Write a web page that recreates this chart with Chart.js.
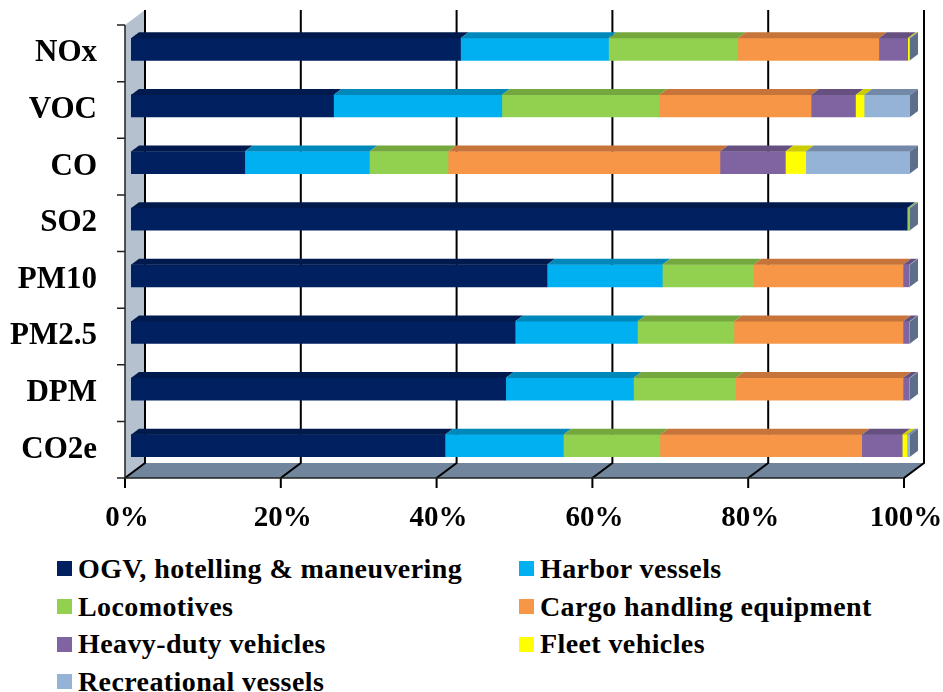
<!DOCTYPE html>
<html>
<head>
<meta charset="utf-8">
<script src="https://cdn.jsdelivr.net/npm/chart.js@4.4.0/dist/chart.umd.min.js"></script>
<style>
  body { margin: 0; background: #fff; width: 943px; height: 692px; position: relative; overflow: hidden; font-family: "Liberation Serif", serif; }
  #wrap { position: absolute; left: 0; top: 0; width: 943px; height: 545px; }
  #legend { position: absolute; left: 57px; top: 550px; display: grid; grid-template-columns: 462px auto; grid-auto-rows: 37.7px; font-weight: bold; font-size: 28px; letter-spacing: 0.4px; color: #000; }
  .item { display: flex; align-items: center; white-space: nowrap; }
  .box { width: 15px; height: 15px; margin-right: 6px; flex: none; }
</style>
</head>
<body>
<div id="wrap"><canvas id="chart" width="943" height="545"></canvas></div>
<div id="legend"></div>
<script>
// pollutants
const categories = ["NOx", "VOC", "CO", "SO2", "PM10", "PM2.5", "DPM", "CO2e"];

// share of each source, %
const ogv    = [42.3, 26.0, 14.6, 99.6, 53.4, 49.3, 48.1, 40.3];
const harbor = [19.0, 21.6, 16.0, 0.1, 14.8, 15.7, 16.4, 15.2];
const loco   = [16.6, 20.2, 10.1, 0.2, 11.7, 12.4, 13.1, 12.4];
const cargo  = [18.1, 19.5, 34.9, 0.05, 19.2, 21.7, 21.5, 25.9];
const hdv    = [3.7, 5.7, 8.4, 0.02, 0.8, 0.8, 0.8, 5.2];
const fleet  = [0.2, 1.1, 2.6, 0, 0, 0, 0, 0.6];
const rec    = [0.1, 5.9, 13.4, 0.03, 0.1, 0.1, 0.1, 0.4];

const xTicks = [0, 20, 40, 60, 80, 100];

const names = ["OGV, hotelling & maneuvering", "Harbor vessels", "Locomotives", "Cargo handling equipment",
  "Heavy-duty vehicles", "Fleet vehicles", "Recreational vessels"];
const series = [ogv, harbor, loco, cargo, hdv, fleet, rec];
const colors = ["#002060", "#00B0F0", "#92D050", "#F79646", "#8064A2", "#FFFF00", "#95B3D7"];
const topColors = ["#001A4D", "#0088BB", "#74A83E", "#C6743A", "#65507F", "#CCCC00", "#7489A8"];

// fake 3d: walls, floor, gridlines behind, bar tops after
const dx = 8, dy = 6;
const threeD = {
  id: "threeD",
  beforeDatasetsDraw(chart) {
    const { ctx, chartArea: a, scales: { x } } = chart;
    const fx = -6, fy = 4, bx = 14, by = -11;
    const x0 = x.getPixelForValue(0), x1 = x.getPixelForValue(100);
    ctx.save();
    // left wall
    ctx.fillStyle = "#B5C1CF";
    ctx.beginPath();
    ctx.moveTo(x0 + fx, a.top + fy);
    ctx.lineTo(x0 + bx, a.top + by);
    ctx.lineTo(x0 + bx, a.bottom + by);
    ctx.lineTo(x0 + fx, a.bottom + fy);
    ctx.closePath();
    ctx.fill();
    // floor
    ctx.fillStyle = "#71859D";
    ctx.beginPath();
    ctx.moveTo(x0 + fx, a.bottom + fy);
    ctx.lineTo(x0 + bx, a.bottom + by);
    ctx.lineTo(x1 + bx, a.bottom + by);
    ctx.lineTo(x1 + fx, a.bottom + fy);
    ctx.closePath();
    ctx.fill();
    // gridlines
    ctx.strokeStyle = "#000";
    ctx.lineWidth = 2;
    xTicks.forEach(v => {
      const p = x.getPixelForValue(v);
      ctx.beginPath();
      ctx.moveTo(p + bx, a.top + by);
      ctx.lineTo(p + bx, a.bottom + by);
      ctx.lineTo(p + fx, a.bottom + fy);
      ctx.lineTo(p + fx, a.bottom + fy + 10);
      ctx.stroke();
    });
    // front axis + category ticks
    ctx.lineWidth = 1.5;
    ctx.strokeStyle = "#222";
    ctx.beginPath();
    ctx.moveTo(x0 + fx, a.top + fy);
    ctx.lineTo(x0 + fx, a.bottom + fy);
    ctx.lineTo(x1 + fx, a.bottom + fy);
    const step = a.height / categories.length;
    for (let k = 0; k <= categories.length; k++) {
      const yy = a.top + fy + k * step;
      ctx.moveTo(x0 + fx - 8, yy);
      ctx.lineTo(x0 + fx, yy);
    }
    ctx.stroke();
    ctx.restore();
  },
  afterDatasetsDraw(chart) {
    const ctx = chart.ctx;
    ctx.save();
    chart.data.datasets.forEach((ds, i) => {
      chart.getDatasetMeta(i).data.forEach(bar => {
        const l = Math.min(bar.base, bar.x), r = Math.max(bar.base, bar.x);
        if (r - l <= 0) return;
        const t = bar.y - bar.height / 2;
        ctx.fillStyle = topColors[i];
        ctx.beginPath();
        ctx.moveTo(l, t);
        ctx.lineTo(l + dx, t - dy);
        ctx.lineTo(r + dx, t - dy);
        ctx.lineTo(r, t);
        ctx.closePath();
        ctx.fill();
      });
    });
    const last = chart.getDatasetMeta(chart.data.datasets.length - 1);
    last.data.forEach(bar => {
      const r = bar.x, t = bar.y - bar.height / 2, b = bar.y + bar.height / 2;
      ctx.fillStyle = "#5D6E8B";
      ctx.beginPath();
      ctx.moveTo(r, t);
      ctx.lineTo(r + dx, t - dy);
      ctx.lineTo(r + dx, b - dy);
      ctx.lineTo(r, b);
      ctx.closePath();
      ctx.fill();
    });
    ctx.restore();
  }
};

new Chart(document.getElementById("chart"), {
  type: "bar",
  data: {
    labels: categories,
    datasets: series.map((d, i) => ({
      label: names[i],
      data: d,
      backgroundColor: colors[i],
      borderWidth: 0,
      barThickness: 22
    }))
  },
  options: {
    indexAxis: "y",
    responsive: false,
    animation: false,
    devicePixelRatio: 1,
    layout: { padding: { top: 21, right: 33, left: 0, bottom: 0 } },
    plugins: { legend: { display: false }, tooltip: { enabled: false } },
    scales: {
      x: {
        stacked: true,
        min: 0,
        max: 100,
        ticks: {
          stepSize: 20,
          callback: v => v + "%",
          color: "#000",
          font: { family: "Liberation Serif", weight: "bold", size: 29 },
          padding: 27,
          labelOffset: -4
        },
        grid: { display: false, drawTicks: false },
        border: { display: false },
        afterFit(s) { s.height = 71; s.paddingLeft = 0; s.paddingRight = 0; }
      },
      y: {
        stacked: true,
        ticks: {
          color: "#000",
          font: { family: "Liberation Serif", weight: "bold", size: 31 },
          padding: 34,
          labelOffset: 4
        },
        grid: { display: false, drawTicks: false },
        border: { display: false },
        afterFit(s) { s.width = 131; s.paddingTop = 0; s.paddingBottom = 0; }
      }
    }
  },
  plugins: [threeD]
});

// legend, two columns
const legend = document.getElementById("legend");
names.forEach((n, i) => {
  const item = document.createElement("div");
  item.className = "item";
  item.innerHTML = '<span class="box" style="background:' + colors[i] + '"></span><span>' + n + "</span>";
  legend.appendChild(item);
});
</script>
</body>
</html>
